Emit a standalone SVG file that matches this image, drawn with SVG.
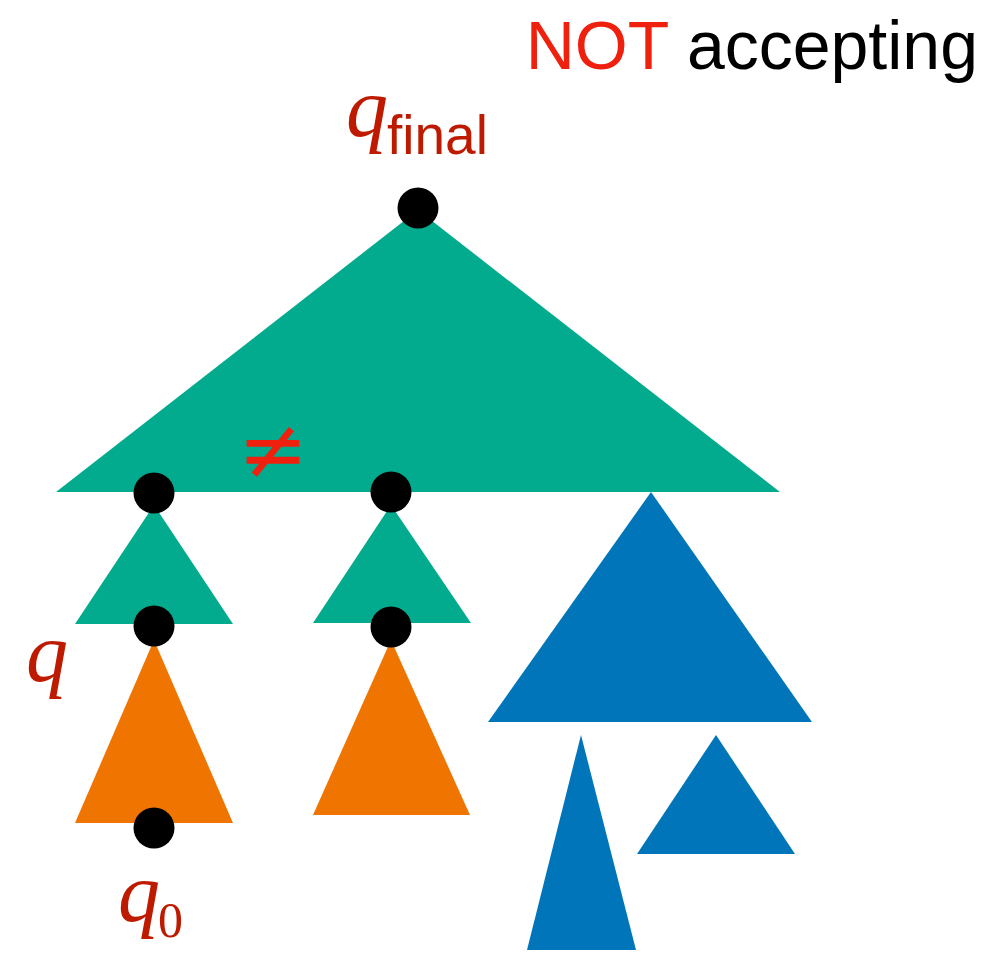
<svg xmlns="http://www.w3.org/2000/svg" width="999" height="955" viewBox="0 0 999 955">
<style>
.g{fill:#03AB8E}
.o{fill:#F07400}
.b{fill:#0075BA}
.dot{fill:#000}
.q{font-family:"Liberation Serif",serif;font-style:italic;fill:#BE1A00}
.sub{font-family:"Liberation Sans",sans-serif;fill:#BE1A00}
.sub0{font-family:"Liberation Serif",serif;fill:#BE1A00}
</style>
<rect width="999" height="955" fill="#fff"/>
<g id="title">
<text x="978" y="69" font-family="Liberation Sans, sans-serif" font-size="68" text-anchor="end"><tspan fill="#F0200F">NOT</tspan><tspan fill="#000"> accepting</tspan></text>
</g>
<g id="shapes">
<polygon id="big-green" class="g" points="418,210 780,492 56,492"/>
<polygon id="left-green" class="g" points="154,505 233,624 75,624"/>
<polygon id="mid-green" class="g" points="391,505 471,623 313,623"/>
<polygon id="left-orange" class="o" points="154,640 233,823 75,823"/>
<polygon id="mid-orange" class="o" points="391,640 470,815 313,815"/>
<polygon id="blue-big" class="b" points="651,492 812,722 488,722"/>
<polygon id="blue-tall" class="b" points="581,735 636,950 527,950"/>
<polygon id="blue-small" class="b" points="716,735 795,854 637,854"/>
</g>
<g id="nodes">
<g id="n-final"><circle class="dot" cx="418" cy="208" r="20.5"/></g>
<g id="n-l1"><circle class="dot" cx="154" cy="493" r="20.5"/></g>
<g id="n-m1"><circle class="dot" cx="391" cy="492" r="20.5"/></g>
<g id="n-q"><circle class="dot" cx="154" cy="626" r="20.5"/></g>
<g id="n-m2"><circle class="dot" cx="391" cy="627" r="20.5"/></g>
<g id="n-q0"><circle class="dot" cx="154" cy="828" r="20.5"/></g>
</g>
<g id="labels">
<text class="q" x="346" y="136" font-size="84">q</text>
<text class="sub" x="387" y="154" font-size="55">final</text>
<text class="q" x="26" y="681" font-size="84">q</text>
<text class="q" x="118" y="921" font-size="84">q</text>
<text class="sub0" x="158" y="937" font-size="50">0</text>
<text x="273" y="478" font-family="DejaVu Sans, sans-serif" font-size="84" fill="#F0200F" text-anchor="middle">≠</text>
</g>
</svg>
